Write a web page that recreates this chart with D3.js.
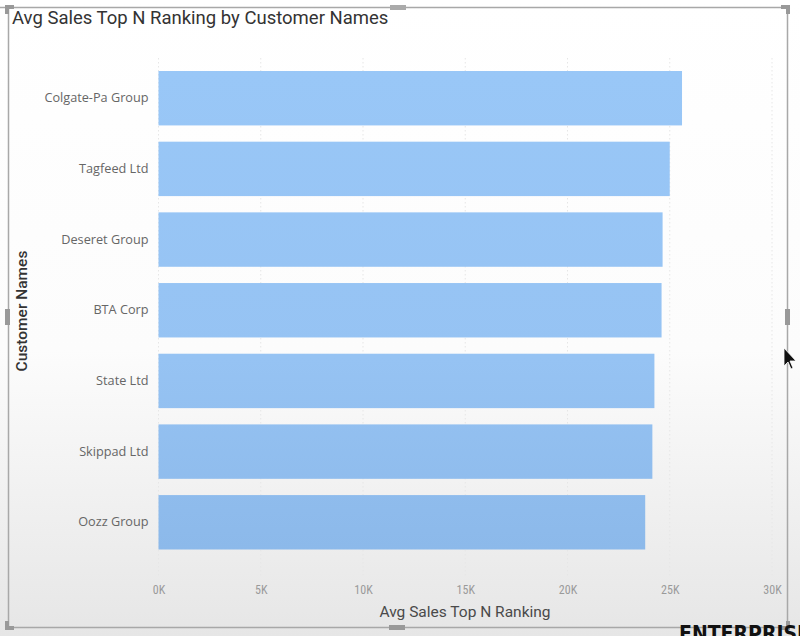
<!DOCTYPE html>
<html><head><meta charset="utf-8">
<script src="https://cdn.jsdelivr.net/npm/d3@7"></script>
<style>body{margin:0;background:#fff}svg{display:block}</style>
</head><body>
<script>
const customers = ["Colgate-Pa Group","Tagfeed Ltd","Deseret Group","BTA Corp","State Ltd","Skippad Ltd","Oozz Group"];
const avgSales = [25600, 25000, 24650, 24600, 24250, 24150, 23800];
const xTicks = [0, 5000, 10000, 15000, 20000, 25000, 30000];
const titleText = "Avg Sales Top N Ranking by Customer Names";
const xTitle = "Avg Sales Top N Ranking";
const yTitle = "Customer Names";

const W = 800, H = 636;
const svg = d3.select("body").append("svg").attr("width", W).attr("height", H);
const defs = svg.append("defs");
const bg = defs.append("linearGradient").attr("id","bg").attr("x1",0).attr("y1",0).attr("x2",0).attr("y2",1);
bg.append("stop").attr("offset","0").attr("stop-color","#ffffff");
bg.append("stop").attr("offset","0.55").attr("stop-color","#fcfcfc");
bg.append("stop").attr("offset","1").attr("stop-color","#e6e6e6");
const bars = defs.append("linearGradient").attr("id","bars").attr("gradientUnits","userSpaceOnUse")
  .attr("x1",0).attr("y1",70).attr("x2",0).attr("y2",550);
bars.append("stop").attr("offset","0").attr("stop-color","#99c7f7");
bars.append("stop").attr("offset","0.6").attr("stop-color","#96c3f3");
bars.append("stop").attr("offset","1").attr("stop-color","#8cb9ea");

svg.append("rect").attr("width",W).attr("height",H).attr("fill","url(#bg)");

const x = d3.scaleLinear().domain([0, 30000]).range([158.5, 772]);
const y = d3.scaleBand().domain(customers).range([71, 549.5]).paddingInner(0.23).paddingOuter(0);

// gridlines
svg.append("g").selectAll("line").data(xTicks).join("line")
  .attr("x1", d => x(d)).attr("x2", d => x(d)).attr("y1", 58).attr("y2", 578)
  .attr("stroke", "#e6e6e6").attr("stroke-width", 1).attr("stroke-dasharray", "1.5,2.5");

// bars
svg.append("g").selectAll("rect").data(customers).join("rect")
  .attr("x", x(0)).attr("y", d => y(d))
  .attr("width", (d, i) => x(avgSales[i]) - x(0))
  .attr("height", y.bandwidth())
  .attr("fill", "url(#bars)");

// y axis
const yAxis = d3.axisLeft(y).tickSize(0).tickPadding(10);
const yg = svg.append("g").attr("transform", `translate(${x(0)},0)`).call(yAxis);
yg.select(".domain").remove();
yg.selectAll("text").attr("fill","#666").attr("font-family","'Open Sans', sans-serif").attr("font-size","12.7px");

// x axis
const xAxis = d3.axisBottom(x).tickValues(xTicks).tickSize(0).tickPadding(0)
  .tickFormat(d => (d/1000) + "K");
const xg = svg.append("g").attr("transform", `translate(0,585)`).call(xAxis);
xg.select(".domain").remove();
xg.selectAll("text").attr("fill","#9a9a9a").attr("font-family","'Roboto Condensed', 'Roboto', sans-serif").attr("font-size","12px");

// axis titles
svg.append("text").attr("x", 465).attr("y", 617).attr("text-anchor","middle")
  .attr("fill","#4a4a4a").attr("font-family","Roboto, sans-serif").attr("font-size","15.5px").text(xTitle);
svg.append("text").attr("transform","translate(27,311) rotate(-90)").attr("text-anchor","middle")
  .attr("fill","#333").attr("font-family","Roboto, sans-serif").attr("font-size","15.5px").attr("font-weight","500").text(yTitle);

// title
svg.append("text").attr("x", 12).attr("y", 24)
  .attr("fill","#333").attr("font-family","Roboto, sans-serif").attr("font-size","18.5px").text(titleText);

// frame
const frame = svg.append("g").attr("fill","none").attr("stroke","#a8a8a8").attr("stroke-width",1.5);
frame.append("path").attr("d","M0,7.5 H787.5 V627.5 H8.5 V7.5");
const hnd = svg.append("g").attr("fill","#999");
hnd.append("path").attr("d","M5,5 h9 v4 h-5 v5 h-4 z");
hnd.append("path").attr("d","M790,5 h-9 v4 h5 v5 h4 z");
hnd.append("path").attr("d","M5,630 h9 v-4 h-5 v-5 h-4 z");
hnd.append("path").attr("d","M790,630 h-9 v-4 h5 v-5 h4 z");
hnd.append("rect").attr("x",390).attr("y",5).attr("width",16).attr("height",5).attr("fill","#aaa");
hnd.append("rect").attr("x",389).attr("y",625).attr("width",16).attr("height",5);
hnd.append("rect").attr("x",5).attr("y",309).attr("width",5).attr("height",16);
hnd.append("rect").attr("x",785).attr("y",309).attr("width",5).attr("height",16);

// cursor
svg.append("path").attr("d","M784,348 L784,366 L788,362 L791,369 L793,368 L790,361 L796,361 Z")
  .attr("fill","#111").attr("stroke","#fff").attr("stroke-width",0.8);

// watermark (cropped in the reference too)
svg.append("text").attr("x", 679).attr("y", 641).attr("fill","#111")
  .attr("font-family","'DejaVu Sans Condensed', 'DejaVu Sans', sans-serif").attr("font-weight","bold").attr("font-size","21px").text("ENTERPRISE");
</script>
</body></html>
